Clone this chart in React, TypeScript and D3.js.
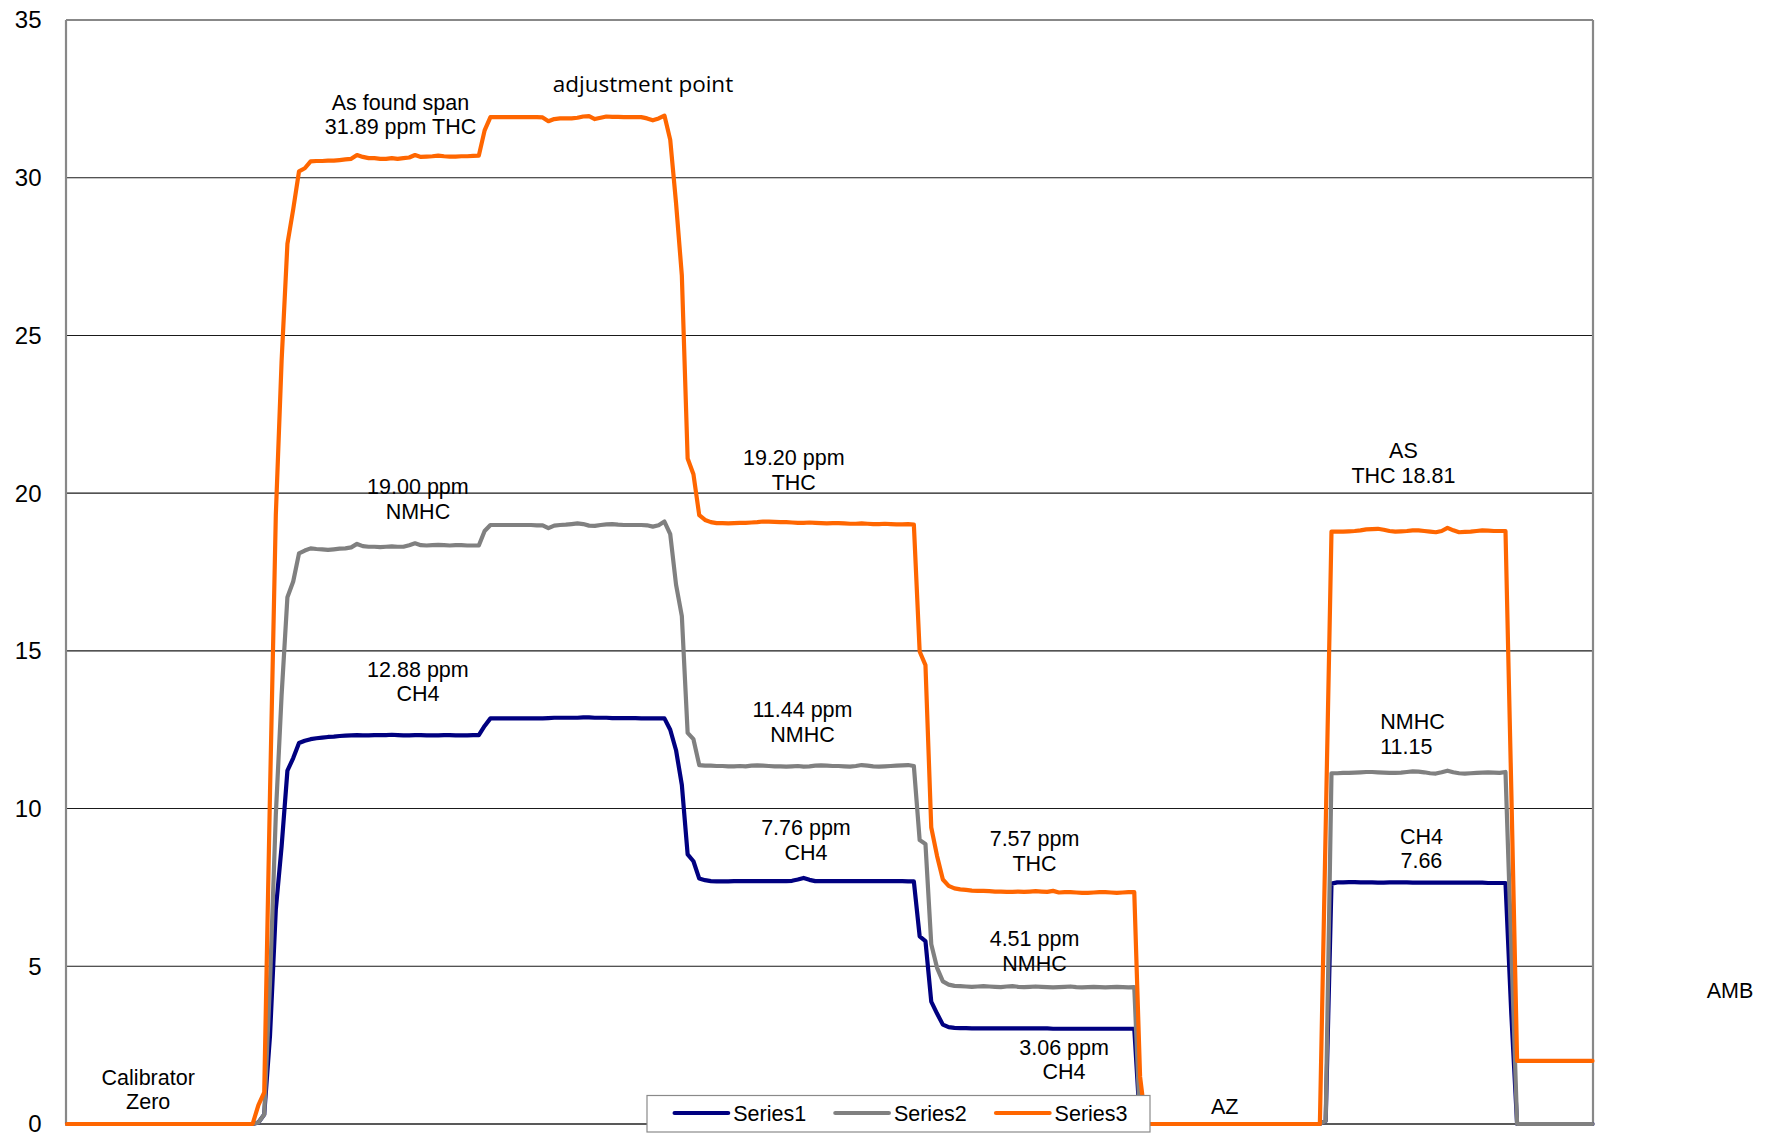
import React from 'react';
import * as d3 from 'd3';

const WIDTH = 1771;
const HEIGHT = 1135;

const yTicks = [0, 5, 10, 15, 20, 25, 30, 35];
const seriesNames = ['Series1', 'Series2', 'Series3'];
const seriesColors = ['#000080', '#808080', '#FF6600'];

// Series1 (CH4, navy)
const series1 = [
  0, 0, 0, 0, 0, 0, 0, 0, 0, 0,
  0, 0, 0, 0, 0, 0, 0, 0, 0, 0,
  0, 0, 0, 0, 0, 0, 0, 0, 0, 0,
  0, 0, 0, 0.05, 0.3, 2.8, 6.8, 8.8, 11.2, 11.6,
  12.08, 12.15, 12.2, 12.23, 12.25, 12.27, 12.28, 12.3, 12.31, 12.32,
  12.33, 12.32, 12.32, 12.33, 12.33, 12.33, 12.34, 12.33, 12.32, 12.32,
  12.33, 12.33, 12.32, 12.32, 12.32, 12.33, 12.33, 12.32, 12.32, 12.32,
  12.33, 12.33, 12.62, 12.86, 12.86, 12.86, 12.86, 12.86, 12.86, 12.86,
  12.86, 12.86, 12.86, 12.87, 12.88, 12.88, 12.88, 12.88, 12.88, 12.89,
  12.89, 12.88, 12.88, 12.88, 12.87, 12.87, 12.87, 12.87, 12.87, 12.86,
  12.86, 12.86, 12.86, 12.86, 12.5, 11.85, 10.75, 8.55, 8.33, 7.78,
  7.73, 7.7, 7.69, 7.69, 7.69, 7.7, 7.7, 7.7, 7.7, 7.7,
  7.7, 7.7, 7.7, 7.7, 7.7, 7.71, 7.75, 7.8, 7.74, 7.7,
  7.7, 7.7, 7.7, 7.7, 7.7, 7.7, 7.7, 7.7, 7.7, 7.7,
  7.7, 7.7, 7.7, 7.7, 7.7, 7.69, 7.69, 5.95, 5.8, 3.88,
  3.5, 3.15, 3.07, 3.05, 3.04, 3.04, 3.03, 3.03, 3.03, 3.03,
  3.03, 3.03, 3.03, 3.03, 3.03, 3.03, 3.03, 3.03, 3.03, 3.03,
  3.02, 3.02, 3.02, 3.02, 3.02, 3.02, 3.02, 3.02, 3.02, 3.02,
  3.02, 3.02, 3.02, 3.02, 3.02, 0, 0, 0, 0, 0,
  0, 0, 0, 0, 0, 0, 0, 0, 0, 0,
  0, 0, 0, 0, 0, 0, 0, 0, 0, 0,
  0, 0, 0, 0, 0, 0, 0, 0.1, 7.62, 7.66,
  7.66, 7.67, 7.67, 7.66, 7.66, 7.66, 7.65, 7.65, 7.66, 7.66,
  7.66, 7.66, 7.65, 7.65, 7.65, 7.65, 7.65, 7.65, 7.65, 7.65,
  7.65, 7.65, 7.65, 7.65, 7.65, 7.64, 7.64, 7.64, 7.64, 3.5,
  0, 0, 0, 0, 0, 0, 0, 0, 0, 0,
  0, 0, 0, 0,
];

// Series2 (NMHC, gray)
const series2 = [
  0, 0, 0, 0, 0, 0, 0, 0, 0, 0,
  0, 0, 0, 0, 0, 0, 0, 0, 0, 0,
  0, 0, 0, 0, 0, 0, 0, 0, 0, 0,
  0, 0, 0, 0.05, 0.3, 4.5, 9.8, 13.6, 16.7, 17.2,
  18.09, 18.18, 18.25, 18.23, 18.22, 18.2, 18.22, 18.24, 18.25, 18.28,
  18.39, 18.32, 18.3, 18.3, 18.29, 18.3, 18.31, 18.3, 18.3, 18.35,
  18.41, 18.35, 18.34, 18.35, 18.36, 18.35, 18.34, 18.35, 18.35, 18.34,
  18.34, 18.34, 18.8, 18.99, 18.99, 18.99, 18.99, 18.99, 18.99, 18.99,
  18.99, 18.98, 18.98, 18.89, 18.97, 18.99, 19.0, 19.02, 19.04, 19.02,
  18.97, 18.96, 18.99, 19.01, 19.02, 19.0, 18.99, 18.99, 18.99, 18.99,
  18.98, 18.94, 18.98, 19.1, 18.7, 17.1, 16.1, 12.4, 12.2, 11.38,
  11.36, 11.36, 11.35, 11.35, 11.34, 11.34, 11.35, 11.34, 11.36, 11.37,
  11.36, 11.35, 11.34, 11.34, 11.33, 11.34, 11.35, 11.33, 11.34, 11.36,
  11.37, 11.36, 11.35, 11.35, 11.34, 11.33, 11.35, 11.38, 11.36, 11.34,
  11.33, 11.34, 11.35, 11.36, 11.37, 11.38, 11.35, 9.0, 8.88, 5.7,
  4.95, 4.52, 4.42, 4.38, 4.37, 4.36, 4.35, 4.36, 4.37, 4.36,
  4.35, 4.34, 4.36, 4.37, 4.35, 4.34, 4.35, 4.36, 4.35, 4.34,
  4.33, 4.34, 4.35, 4.36, 4.34, 4.33, 4.34, 4.35, 4.34, 4.33,
  4.34, 4.35, 4.34, 4.33, 4.34, 0, 0, 0, 0, 0,
  0, 0, 0, 0, 0, 0, 0, 0, 0, 0,
  0, 0, 0, 0, 0, 0, 0, 0, 0, 0,
  0, 0, 0, 0, 0, 0, 0, 0.1, 11.12, 11.12,
  11.13, 11.13, 11.14, 11.15, 11.16, 11.16, 11.15, 11.14, 11.13, 11.13,
  11.14, 11.16, 11.18, 11.17, 11.15, 11.12, 11.11, 11.15, 11.2, 11.15,
  11.12, 11.11, 11.12, 11.13, 11.14, 11.15, 11.14, 11.13, 11.16, 5.6,
  0, 0, 0, 0, 0, 0, 0, 0, 0, 0,
  0, 0, 0, 0,
];

// Series3 (THC, orange)
const series3 = [
  0, 0, 0, 0, 0, 0, 0, 0, 0, 0,
  0, 0, 0, 0, 0, 0, 0, 0, 0, 0,
  0, 0, 0, 0, 0, 0, 0, 0, 0, 0,
  0, 0, 0, 0.6, 1.0, 10.5, 19.3, 24.2, 27.9, 29.0,
  30.2, 30.3, 30.52, 30.53, 30.53, 30.54, 30.54, 30.56, 30.58, 30.6,
  30.72, 30.66, 30.62, 30.62, 30.6, 30.6, 30.62, 30.6, 30.62, 30.64,
  30.72, 30.66, 30.67, 30.68, 30.7, 30.68, 30.67, 30.67, 30.68, 30.68,
  30.69, 30.7, 31.5, 31.92, 31.92, 31.92, 31.92, 31.92, 31.92, 31.92,
  31.92, 31.92, 31.91, 31.79, 31.86, 31.88, 31.88, 31.88, 31.9, 31.94,
  31.95, 31.86, 31.9, 31.94, 31.93, 31.93, 31.92, 31.92, 31.92, 31.92,
  31.88, 31.82, 31.88, 31.97, 31.2, 29.2, 26.9, 21.1, 20.6, 19.3,
  19.15, 19.08, 19.05, 19.05, 19.04, 19.05, 19.06, 19.06, 19.07, 19.08,
  19.1, 19.1, 19.09, 19.08, 19.08, 19.07, 19.06, 19.06, 19.07, 19.06,
  19.05, 19.04, 19.05, 19.05, 19.04, 19.03, 19.03, 19.04, 19.03, 19.02,
  19.02, 19.03, 19.02, 19.01, 19.01, 19.02, 19.0, 14.98, 14.55, 9.4,
  8.5, 7.75, 7.55, 7.47, 7.44, 7.42, 7.4, 7.39, 7.39, 7.38,
  7.37, 7.37, 7.36, 7.36, 7.37, 7.36, 7.37, 7.38, 7.37, 7.36,
  7.39, 7.34, 7.35, 7.35, 7.34, 7.33, 7.33, 7.34, 7.35, 7.35,
  7.34, 7.33, 7.34, 7.35, 7.35, 1.5, 0, 0, 0, 0,
  0, 0, 0, 0, 0, 0, 0, 0, 0, 0,
  0, 0, 0, 0, 0, 0, 0, 0, 0, 0,
  0, 0, 0, 0, 0, 0, 0, 9.4, 18.78, 18.78,
  18.78, 18.79, 18.8, 18.82, 18.85, 18.86, 18.87, 18.84, 18.8, 18.78,
  18.79, 18.8, 18.82, 18.82, 18.8, 18.78, 18.76, 18.8, 18.9, 18.82,
  18.76, 18.77, 18.78, 18.8, 18.82, 18.81, 18.8, 18.8, 18.8, 10.6,
  2.0, 2.0, 2.0, 2.0, 2.0, 2.0, 2.0, 2.0, 2.0, 2.0,
  2.0, 2.0, 2.0, 2.0,
];

// annotation texts, anchored in data space (sample index, ppm of first baseline)
const annotationLines = [
  ['As found span', '31.89 ppm THC'],
  ['adjustment point'],
  ['19.00 ppm', 'NMHC'],
  ['12.88 ppm', 'CH4'],
  ['19.20 ppm', 'THC'],
  ['11.44 ppm', 'NMHC'],
  ['7.76 ppm', 'CH4'],
  ['7.57 ppm', 'THC'],
  ['4.51 ppm', 'NMHC'],
  ['3.06 ppm', 'CH4'],
  ['Calibrator', 'Zero'],
  ['AZ'],
  ['AS', 'THC 18.81'],
  ['NMHC', '11.15'],
  ['CH4', '7.66'],
  ['AMB'],
];
const annotationIndex = [57.5, 99.3, 60.5, 60.5, 125.3, 126.8, 127.4, 166.8, 166.8, 171.9, 14.0, 199.6, 230.4, 226.4, 233.5, 286.7];
const annotationValue = [32.15, 32.73, 19.96, 14.18, 20.89, 12.9, 9.15, 8.8, 5.63, 2.19, 1.24, 0.31, 21.1, 12.52, 8.88, 4.0];
const annotationAnchor = ['middle', 'middle', 'middle', 'middle', 'middle', 'middle', 'middle', 'middle', 'middle', 'middle', 'middle', 'middle', 'middle', 'start', 'middle', 'middle'];

const FONT = '"Liberation Sans", Arial, sans-serif';

export default function App() {
  const plot = { left: 66, right: 1593, top: 20, bottom: 1124 };
  const n = series3.length;
  const x = d3.scaleLinear().domain([0, n - 1]).range([67, 1592.5]);
  const y = d3.scaleLinear().domain([0, 35]).range([plot.bottom, plot.top]);
  const line = d3
    .line<number>()
    .x((_, i) => x(i))
    .y((d) => y(d));
  const allSeries = [series1, series2, series3];

  const legend = { left: 647, top: 1095.5, width: 503, height: 36.5, itemStart: 674.6, itemStep: 160.7, lineLen: 53.6 };

  return (
    <div style={{ position: 'absolute', left: 0, top: 0 }}>
      <svg width={WIDTH} height={HEIGHT} style={{ display: 'block', background: '#fff' }}>
        <rect x={0} y={0} width={WIDTH} height={HEIGHT} fill="#fff" />
        {yTicks
          .filter((t) => t > 0 && t < 35)
          .map((t) => (
            <line key={t} x1={plot.left} x2={plot.right} y1={y(t)} y2={y(t)} stroke="#1a1a1a" strokeWidth={1.1} />
          ))}
        <line x1={plot.left} x2={plot.right} y1={y(0)} y2={y(0)} stroke="#222" strokeWidth={1.5} />
        <line x1={plot.left} x2={plot.right} y1={plot.top} y2={plot.top} stroke="#888" strokeWidth={2.2} />
        <line x1={plot.left} x2={plot.left} y1={plot.top} y2={plot.bottom} stroke="#888" strokeWidth={2.2} />
        <line x1={plot.right} x2={plot.right} y1={plot.top} y2={plot.bottom} stroke="#888" strokeWidth={2.2} />
        {yTicks.map((t) => (
          <text key={t} x={41.5} y={y(t)} dy="0.35em" textAnchor="end" fontFamily={FONT} fontSize={24} fill="#000">
            {t}
          </text>
        ))}
        {allSeries.map((s, k) => (
          <path
            key={k}
            d={line(s) || ''}
            fill="none"
            stroke={seriesColors[k]}
            strokeWidth={4.2}
            strokeLinejoin="round"
            strokeLinecap="round"
          />
        ))}
        {annotationLines.map((lines, k) => (
          <text
            key={k}
            x={x(annotationIndex[k])}
            y={y(annotationValue[k])}
            textAnchor={annotationAnchor[k]}
            fontFamily={k === 1 ? '"Open Sans", sans-serif' : FONT}
            fontSize={k === 1 ? 22.5 : 21.5}
            fill="#000"
          >
            {lines.map((s, j) => (
              <tspan key={j} x={x(annotationIndex[k])} dy={j === 0 ? 0 : 24.5}>
                {s}
              </tspan>
            ))}
          </text>
        ))}
        <g>
          <rect
            x={legend.left}
            y={legend.top}
            width={legend.width}
            height={legend.height}
            fill="#fff"
            stroke="#8a8a8a"
            strokeWidth={1.2}
          />
          {seriesNames.map((name, k) => {
            const lx = legend.itemStart + k * legend.itemStep;
            return (
              <g key={name}>
                <line
                  x1={lx}
                  x2={lx + legend.lineLen}
                  y1={legend.top + 17.5}
                  y2={legend.top + 17.5}
                  stroke={seriesColors[k]}
                  strokeWidth={4.2}
                  strokeLinecap="round"
                />
                <text x={lx + 58.6} y={legend.top + 25} fontFamily={FONT} fontSize={21.5} fill="#000">
                  {name}
                </text>
              </g>
            );
          })}
        </g>
      </svg>
    </div>
  );
}
